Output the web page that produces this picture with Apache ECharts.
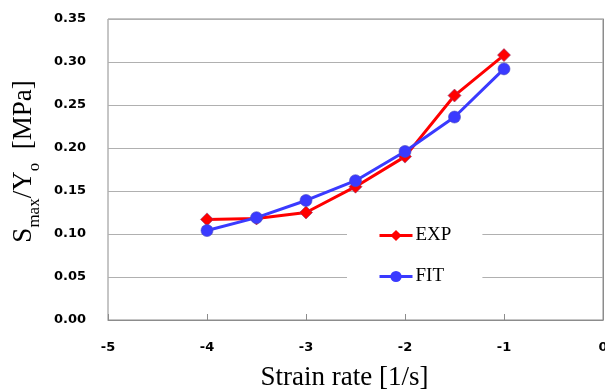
<!DOCTYPE html>
<html>
<head>
<meta charset="utf-8">
<script src="https://cdn.jsdelivr.net/npm/echarts@6/dist/echarts.min.js"></script>
<style>
  html, body { margin: 0; padding: 0; background: #fff; }
  #chart { width: 605px; height: 391px; }
</style>
</head>
<body>
<div id="chart"></div>
<script>
const strainRate = [-4, -3.5, -3, -2.5, -2, -1.5, -1];
const expValues = [0.117, 0.118, 0.125, 0.155, 0.190, 0.261, 0.308];
const fitValues = [0.104, 0.119, 0.139, 0.162, 0.196, 0.236, 0.292];

const chart = echarts.init(document.getElementById("chart"));

const serif = "Liberation Serif";
const tickFont = { fontFamily: "DejaVu Sans", fontWeight: "bold", fontSize: 13, color: "#000" };

chart.setOption({
  animation: false,
  grid: {
    left: 108, right: 2, top: 19, bottom: 71,
    outerBoundsMode: "none",
    show: true, borderColor: "#8c8c8c", borderWidth: 1
  },
  legend: {
    orient: "vertical",
    left: 347,
    top: 216,
    backgroundColor: "#fff",
    padding: [10, 31, 10, 31],
    itemWidth: 33,
    itemHeight: 14,
    itemGap: 22,
    itemStyle: { borderWidth: 0 },
    lineStyle: { width: 3 },
    textStyle: { fontFamily: serif, fontSize: 19, color: "#000", padding: [0, 0, 0, -2] },
    data: ["EXP", "FIT"]
  },
  xAxis: {
    type: "value",
    min: -5,
    max: 0,
    interval: 1,
    name: "Strain rate [1/s]",
    nameLocation: "middle",
    nameGap: 44,
    nameTextStyle: { fontFamily: serif, fontSize: 27, color: "#000", padding: [0, 22, 0, 0] },
    axisLine: { lineStyle: { color: "#8c8c8c", width: 1 } },
    axisTick: { show: true, inside: true, length: 6, lineStyle: { color: "#8c8c8c" } },
    axisLabel: Object.assign({ margin: 21, showMinLabel: true, showMaxLabel: true }, tickFont),
    splitLine: { show: false }
  },
  yAxis: {
    type: "value",
    min: 0,
    max: 0.35,
    interval: 0.05,
    name: "{s|S}{sub|max}{s|/Y}{sub|o}{s|  [MPa]}",
    nameLocation: "middle",
    nameRotate: 90,
    nameGap: 57,
    nameTextStyle: {
      padding: [0, 0, 0, 16],
      rich: {
        s: { fontFamily: serif, fontSize: 27, color: "#000", verticalAlign: "bottom", lineHeight: 30 },
        sub: { fontFamily: serif, fontSize: 17, color: "#000", verticalAlign: "bottom", lineHeight: 22, padding: [0, 0, -6, 0] }
      }
    },
    axisLine: { show: true, lineStyle: { color: "#8c8c8c", width: 1 } },
    axisTick: { show: false },
    axisLabel: Object.assign({ margin: 22, formatter: (v) => v.toFixed(2) }, tickFont),
    splitLine: { lineStyle: { color: "#b0b0b0", width: 1.2 } }
  },
  series: [
    {
      name: "EXP",
      type: "line",
      data: strainRate.map((x, i) => [x, expValues[i]]),
      symbol: "diamond",
      symbolSize: 13,
      color: "#ff0000",
      lineStyle: { width: 3, color: "#ff0000" },
      itemStyle: { color: "#ff0000", borderColor: "#8a3a7a", borderWidth: 0.6 },
      z: 2
    },
    {
      name: "FIT",
      type: "line",
      data: strainRate.map((x, i) => [x, fitValues[i]]),
      symbol: "circle",
      symbolSize: 12,
      color: "#3a3aff",
      lineStyle: { width: 3, color: "#3a3aff" },
      itemStyle: { color: "#3a3aff", borderColor: "#4a4ac0", borderWidth: 0.6 },
      z: 3
    }
  ]
});
</script>
</body>
</html>
